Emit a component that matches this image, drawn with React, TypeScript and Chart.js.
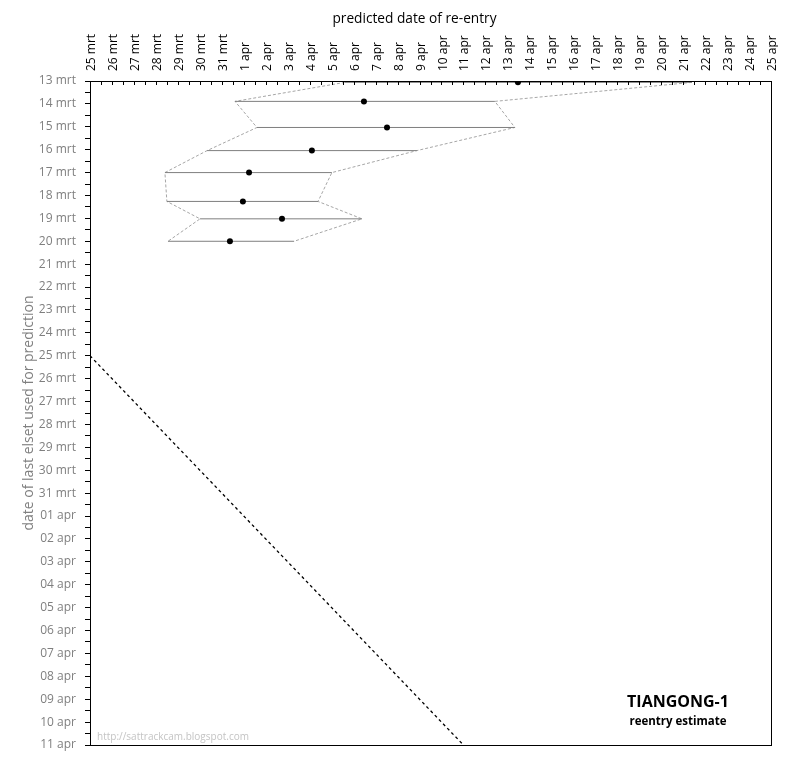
import React, { useEffect, useRef } from "react";
import { Chart, registerables } from "chart.js";

Chart.register(...registerables);

// Day numbers: 25 = 25 mrt, 31 = 31 mrt, 32 = 1 apr, ... 56 = 25 apr
const X_TICK_LABELS = [
  "25 mrt", "26 mrt", "27 mrt", "28 mrt", "29 mrt", "30 mrt", "31 mrt",
  "1 apr", "2 apr", "3 apr", "4 apr", "5 apr", "6 apr", "7 apr", "8 apr",
  "9 apr", "10 apr", "11 apr", "12 apr", "13 apr", "14 apr", "15 apr",
  "16 apr", "17 apr", "18 apr", "19 apr", "20 apr", "21 apr", "22 apr",
  "23 apr", "24 apr", "25 apr",
];
const Y_TICK_LABELS = [
  "13 mrt", "14 mrt", "15 mrt", "16 mrt", "17 mrt", "18 mrt", "19 mrt",
  "20 mrt", "21 mrt", "22 mrt", "23 mrt", "24 mrt", "25 mrt", "26 mrt",
  "27 mrt", "28 mrt", "29 mrt", "30 mrt", "31 mrt", "01 apr", "02 apr",
  "03 apr", "04 apr", "05 apr", "06 apr", "07 apr", "08 apr", "09 apr",
  "10 apr", "11 apr",
];
const X_MIN = 25;
const X_MAX = 56;
const Y_MIN = 13;
const Y_MAX = 42;

// elset epoch (day number) of each prediction
const ELSET_DAY = [13.06, 13.89, 15.03, 16.04, 17.0, 18.26, 19.02, 20.0];
// predicted re-entry (day number)
const PREDICTED = [44.48, 37.47, 38.52, 35.1, 32.24, 31.96, 33.74, 31.37];
const WINDOW_LOW = [36.6, 31.6, 32.6, 30.33, 28.41, 28.5, 30.01, 28.55];
const WINDOW_HIGH = [52.4, 43.43, 44.34, 39.88, 36.01, 35.38, 37.38, 34.29];
// reference line: predicted date = elset date
const DIAGONAL_DAYS = [25, 42];

const FONT = "'Open Sans', 'Liberation Sans', sans-serif";

export default function App() {
  const ref = useRef<HTMLCanvasElement | null>(null);

  useEffect(() => {
    if (!ref.current) return;

    const decor = {
      id: "decor",
      afterDraw(chart: any) {
        const { ctx, chartArea } = chart;
        const { left, right, top, bottom } = chartArea;
        const xs = chart.scales.x;
        ctx.save();
        // ticks hanging into plot from top axis
        ctx.strokeStyle = "#000";
        ctx.lineWidth = 1;
        ctx.beginPath();
        xs.ticks.forEach((t: any) => {
          const px = Math.round(xs.getPixelForValue(t.value)) + 0.5;
          ctx.moveTo(px, top);
          ctx.lineTo(px, top + 4);
        });
        ctx.stroke();
        // frame
        ctx.strokeRect(Math.round(left) + 0.5, Math.round(top) + 0.5, Math.round(right - left), Math.round(bottom - top));
        // x axis title
        ctx.fillStyle = "#000";
        ctx.font = `13.7px ${FONT}`;
        ctx.textAlign = "center";
        ctx.textBaseline = "middle";
        ctx.fillText("predicted date of re-entry", (left + right) / 2 - 16, 11);
        // label box
        ctx.font = `bold 16px ${FONT}`;
        ctx.fillText("TIANGONG-1", right - 93, bottom - 43);
        ctx.font = `bold 11.5px ${FONT}`;
        ctx.fillText("reentry estimate", right - 93, bottom - 23);
        // watermark
        ctx.fillStyle = "#c4c4c4";
        ctx.font = `10px ${FONT}`;
        ctx.textAlign = "left";
        ctx.fillText("http://sattrackcam.blogspot.com", left + 7, bottom - 8);
        ctx.restore();
      },
    };

    const rangeSets = ELSET_DAY.map((y, i) => ({
      label: "window " + i,
      data: [
        { x: WINDOW_LOW[i], y },
        { x: WINDOW_HIGH[i], y },
      ],
      showLine: true,
      borderColor: "#7f7f7f",
      borderWidth: 1,
      pointRadius: 0,
    }));

    const chart = new Chart(ref.current, {
      type: "scatter",
      data: {
        datasets: [
          {
            label: "predicted",
            data: ELSET_DAY.map((y, i) => ({ x: PREDICTED[i], y })),
            pointRadius: 3,
            pointBackgroundColor: "#000",
            pointBorderColor: "#000",
            borderWidth: 0,
          },
          ...rangeSets,
          {
            label: "low envelope",
            data: ELSET_DAY.map((y, i) => ({ x: WINDOW_LOW[i], y })),
            showLine: true,
            borderColor: "#a6a6a6",
            borderWidth: 1,
            borderDash: [3, 2],
            pointRadius: 0,
          },
          {
            label: "high envelope",
            data: ELSET_DAY.map((y, i) => ({ x: WINDOW_HIGH[i], y })),
            showLine: true,
            borderColor: "#a6a6a6",
            borderWidth: 1,
            borderDash: [3, 2],
            pointRadius: 0,
          },
          {
            label: "diagonal",
            data: DIAGONAL_DAYS.map((d) => ({ x: d, y: d })),
            showLine: true,
            borderColor: "#000",
            borderWidth: 1.3,
            borderDash: [3, 3],
            pointRadius: 0,
          },
        ],
      },
      options: {
        animation: false,
        responsive: true,
        maintainAspectRatio: false,
        layout: { padding: { left: 0, right: 7, top: 0, bottom: 7 } },
        plugins: {
          legend: { display: false },
          tooltip: { enabled: false },
        },
        scales: {
          x: {
            type: "linear",
            position: "top",
            min: X_MIN,
            max: X_MAX,
            afterFit: (s: any) => {
              s.height = 73;
              s.paddingLeft = 0;
              s.paddingRight = 0;
            },
            ticks: {
              stepSize: 0.5,
              autoSkip: false,
              minRotation: 90,
              maxRotation: 90,
              padding: 10,
              labelOffset: 16,
              color: "#000",
              font: { family: FONT, size: 12 },
              callback: (v: any) =>
                Number.isInteger(v) ? X_TICK_LABELS[v - X_MIN] : "",
            },
            grid: { display: true, drawOnChartArea: false, drawTicks: false },
            border: { display: false },
          },
          y: {
            type: "linear",
            reverse: true,
            min: Y_MIN,
            max: Y_MAX,
            afterFit: (s: any) => {
              s.width = 82;
              s.paddingTop = 0;
              s.paddingBottom = 0;
            },
            ticks: {
              stepSize: 0.5,
              autoSkip: false,
              padding: 9,
              color: "#7f7f7f",
              font: { family: FONT, size: 12 },
              callback: (v: any) =>
                Number.isInteger(v) ? Y_TICK_LABELS[v - Y_MIN] : "",
            },
            grid: {
              display: true,
              drawOnChartArea: false,
              drawTicks: true,
              tickLength: 5,
              color: "#000",
            },
            border: { display: false },
            title: {
              display: true,
              text: "date of last elset used for prediction",
              color: "#808080",
              font: { family: FONT, size: 14 },
              padding: { top: 13, bottom: 0 },
            },
          },
        },
      },
      plugins: [decor],
    });

    return () => chart.destroy();
  }, []);

  return (
    <div style={{ position: "relative", width: 770, height: 744 }}>
      <canvas ref={ref} />
    </div>
  );
}
